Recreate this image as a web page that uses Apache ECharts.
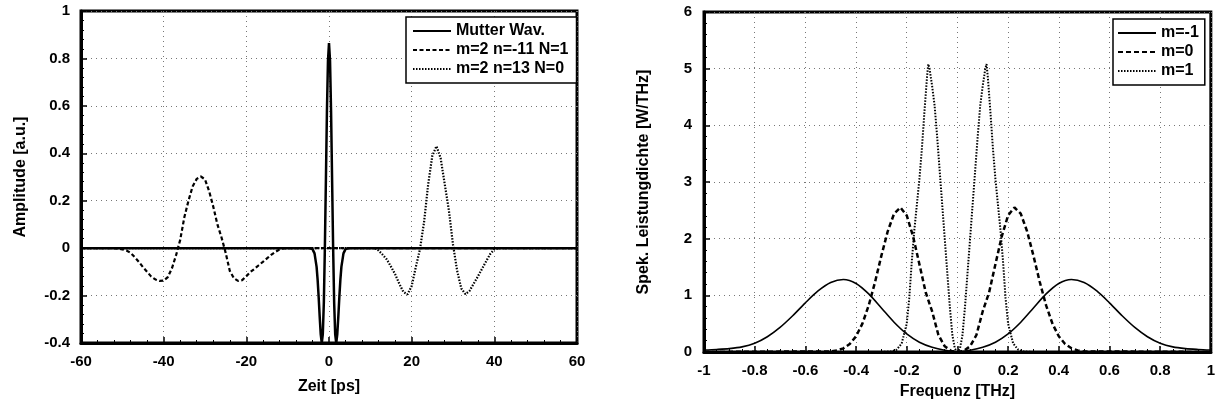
<!DOCTYPE html>
<html><head><meta charset="utf-8">
<script src="https://cdn.jsdelivr.net/npm/echarts@6/dist/echarts.min.js"></script>
<style>html,body{margin:0;padding:0;background:#fff}#c{width:1218px;height:410px}</style>
</head><body><div id="c"></div>
<script>
// ---------- Left chart: time domain ----------
const timeMother = [-60, -5, -4, -3.5, -3, -2.75, -2.5, -2.25, -2, -1.75, -1.5, -1.25, -1, -0.75, -0.5, -0.25, 0, 0.25, 0.5, 0.75, 1, 1.25, 1.5, 1.75, 2, 2.25, 2.5, 2.75, 3, 3.5, 4, 5, 60];
const ampMother  = [0, 0, -0.004, -0.022, -0.079, -0.134, -0.207, -0.29, -0.364, -0.40, -0.364, -0.231, 0, 0.287, 0.576, 0.79, 0.865, 0.79, 0.576, 0.287, 0, -0.231, -0.364, -0.40, -0.364, -0.29, -0.207, -0.134, -0.079, -0.022, -0.004, 0, 0];

const timeN1 = [-60, -52, -51, -50, -49, -48, -47, -46, -45, -44, -43, -42, -41, -40, -39, -38, -37, -36, -35, -34, -33, -32, -31, -30, -29, -28, -27, -26, -25, -24, -23, -22, -21, -20, -19, -18, -17, -16, -15, -14, -13, -12, -11, -10, 60];
const ampN1  = [0, 0, -0.002, -0.005, -0.01, -0.02, -0.038, -0.058, -0.08, -0.1, -0.12, -0.132, -0.138, -0.137, -0.122, -0.085, -0.03, 0.035, 0.13, 0.2, 0.26, 0.292, 0.302, 0.29, 0.24, 0.175, 0.1, 0.045, -0.02, -0.096, -0.127, -0.138, -0.135, -0.118, -0.1, -0.087, -0.072, -0.058, -0.043, -0.028, -0.016, -0.006, -0.001, 0, 0];

const timeN0 = [-60, 10, 11, 12, 13, 14, 15, 16, 17, 18, 19, 20, 21, 22, 23, 24, 25, 26, 27, 28, 29, 30, 31, 32, 33, 34, 35, 36, 37, 38, 39, 40, 41, 60];
const ampN0  = [0, 0, 0, -0.01, -0.028, -0.048, -0.078, -0.11, -0.15, -0.185, -0.195, -0.16, -0.08, -0.005, 0.11, 0.27, 0.39, 0.43, 0.38, 0.27, 0.16, 0.015, -0.095, -0.17, -0.194, -0.18, -0.15, -0.12, -0.088, -0.056, -0.025, -0.005, 0, 0];

// ---------- Right chart: spectra ----------
const freqM1 = [-1, -0.95, -0.9, -0.85, -0.8, -0.75, -0.7, -0.65, -0.6, -0.55, -0.5, -0.45, -0.4, -0.35, -0.3, -0.25, -0.2, -0.15, -0.1, -0.05, 0, 0.05, 0.1, 0.15, 0.2, 0.25, 0.3, 0.35, 0.4, 0.45, 0.5, 0.55, 0.6, 0.65, 0.7, 0.75, 0.8, 0.85, 0.9, 0.95, 1];
const psdM1  = [0.035, 0.045, 0.06, 0.09, 0.155, 0.27, 0.434, 0.64, 0.868, 1.077, 1.226, 1.28, 1.21, 1.025, 0.777, 0.526, 0.319, 0.173, 0.084, 0.03, 0, 0.03, 0.084, 0.173, 0.319, 0.526, 0.777, 1.025, 1.21, 1.28, 1.226, 1.077, 0.868, 0.64, 0.434, 0.27, 0.155, 0.09, 0.06, 0.045, 0.035];

const freqM0 = [-1, -0.5, -0.475, -0.45, -0.425, -0.4, -0.375, -0.35, -0.325, -0.3, -0.275, -0.25, -0.225, -0.2, -0.175, -0.15, -0.125, -0.1, -0.075, -0.05, -0.025, 0, 0.025, 0.05, 0.075, 0.1, 0.125, 0.15, 0.175, 0.2, 0.225, 0.25, 0.275, 0.3, 0.325, 0.35, 0.375, 0.4, 0.425, 0.45, 0.475, 0.5, 1];
const psdM0  = [0, 0.011, 0.028, 0.065, 0.14, 0.277, 0.5, 0.822, 1.235, 1.7, 2.13, 2.44, 2.55, 2.41, 2.04, 1.55, 1.05, 0.72, 0.3, 0.1, 0.02, 0, 0.02, 0.1, 0.3, 0.72, 1.05, 1.55, 2.04, 2.41, 2.55, 2.44, 2.13, 1.7, 1.235, 0.822, 0.5, 0.277, 0.14, 0.065, 0.028, 0.011, 0];

const freqP1 = [-1, -0.3, -0.26, -0.24, -0.22, -0.2, -0.19, -0.18, -0.17, -0.16, -0.15, -0.14, -0.13, -0.12, -0.115, -0.11, -0.1, -0.09, -0.08, -0.07, -0.06, -0.05, -0.04, -0.03, -0.02, -0.01, 0, 0.01, 0.02, 0.03, 0.04, 0.05, 0.06, 0.07, 0.08, 0.09, 0.1, 0.11, 0.115, 0.12, 0.13, 0.14, 0.15, 0.16, 0.17, 0.18, 0.19, 0.2, 0.22, 0.24, 0.26, 0.3, 1];
const psdP1  = [0, 0, 0.01, 0.04, 0.15, 0.5, 0.95, 1.6, 2.15, 2.6, 3.05, 3.6, 4.25, 4.85, 5.08, 5.0, 4.7, 4.35, 3.8, 3.2, 2.6, 2.0, 1.4, 0.8, 0.3, 0.06, 0, 0.06, 0.3, 0.8, 1.4, 2.0, 2.6, 3.2, 3.8, 4.35, 4.7, 5.0, 5.08, 4.85, 4.25, 3.6, 3.05, 2.6, 2.15, 1.6, 0.95, 0.5, 0.15, 0.04, 0.01, 0, 0];

const namesLeft  = ['Mutter Wav.', 'm=2 n=-11 N=1', 'm=2 n=13 N=0'];
const namesRight = ['m=-1', 'm=0', 'm=1'];

function pairs(xs, ys) { return xs.map((x, i) => [x, ys[i]]); }

const FONT = '"Liberation Sans", Arial, Helvetica, sans-serif';
const labelStyle = { fontFamily: FONT, fontWeight: 'bold', fontSize: 15, color: '#000' };
const nameStyle = { fontFamily: FONT, fontWeight: 'bold', fontSize: 16, color: '#000' };

function axisBase(extra) {
  return Object.assign({
    type: 'value',
    axisLine: { show: true, onZero: false, lineStyle: { color: '#000', width: 3 } },
    axisTick: { show: true, inside: true, length: 6, lineStyle: { color: '#000', width: 1.5 } },
    minorTick: { show: true, splitNumber: 5, length: 3, lineStyle: { color: '#000', width: 1 } },
    splitLine: { show: true, lineStyle: { color: '#777', width: 1, type: [1, 4] } },
    axisLabel: Object.assign({ margin: 11, showMinLabel: true, showMaxLabel: true, hideOverlap: false }, labelStyle),
    nameLocation: 'middle',
    nameTextStyle: nameStyle
  }, extra);
}

function lineSeries(name, xi, yi, data, style, z, smooth) {
  return {
    type: 'line', name: name, xAxisIndex: xi, yAxisIndex: yi, data: data,
    symbol: 'none', showSymbol: false, smooth: smooth || false, clip: true, z: z || 2,
    lineStyle: Object.assign({ color: '#000' }, style),
    itemStyle: { color: '#000' },
    emphasis: { disabled: true }
  };
}

const legendBase = {
  orient: 'vertical', itemWidth: 38, itemHeight: 12, itemGap: 3,
  borderColor: '#000', borderWidth: 1.5, backgroundColor: '#fff',
  textStyle: nameStyle, selectedMode: false,
  itemStyle: { opacity: 0, borderWidth: 0 }
};

const chart = echarts.init(document.getElementById('c'));
chart.setOption({
  animation: false,
  backgroundColor: '#fff',
  grid: [
    { left: 81, top: 11, width: 496, height: 332, show: true, borderColor: '#000', borderWidth: 3, backgroundColor: 'transparent' },
    { left: 704, top: 12, width: 508, height: 340, show: true, borderColor: '#000', borderWidth: 3, backgroundColor: 'transparent' }
  ],
  xAxis: [
    axisBase({ gridIndex: 0, min: -60, max: 60, interval: 20, name: 'Zeit [ps]', nameGap: 36 }),
    axisBase({ gridIndex: 1, min: -1, max: 1, interval: 0.2, name: 'Frequenz [THz]', nameGap: 32,
      minorTick: { show: true, splitNumber: 4, length: 3, lineStyle: { color: '#000', width: 1 } } })
  ],
  yAxis: [
    axisBase({ gridIndex: 0, min: -0.4, max: 1, interval: 0.2, name: 'Amplitude [a.u.]', nameGap: 52 }),
    axisBase({ gridIndex: 1, min: 0, max: 6, interval: 1, name: 'Spek. Leistungdichte [W/THz]', nameGap: 52,
      axisLabel: Object.assign({ margin: 12, showMinLabel: true, showMaxLabel: true, hideOverlap: false }, labelStyle) })
  ],
  legend: [
    Object.assign({}, legendBase, { data: namesLeft, left: 406, top: 17, padding: [6, 8, 6, 6] }),
    Object.assign({}, legendBase, { data: namesRight, left: 1113, top: 19, padding: [6, 6, 6, 4] })
  ],
  series: [
    lineSeries(namesLeft[0], 0, 0, pairs(timeMother, ampMother), { width: 2.5, type: 'solid' }, 4),
    lineSeries(namesLeft[1], 0, 0, pairs(timeN1, ampN1), { width: 2.2, type: [4, 2.5] }, 3),
    lineSeries(namesLeft[2], 0, 0, pairs(timeN0, ampN0), { width: 2.2, type: [1.5, 1.5] }, 3),
    lineSeries(namesRight[0], 1, 1, pairs(freqM1, psdM1), { width: 1.6, type: 'solid' }, 3, 0.3),
    lineSeries(namesRight[1], 1, 1, pairs(freqM0, psdM0), { width: 2.5, type: [5, 3] }, 3),
    lineSeries(namesRight[2], 1, 1, pairs(freqP1, psdP1), { width: 2, type: [1.5, 1.5] }, 3)
  ]
});
</script>
</body></html>
